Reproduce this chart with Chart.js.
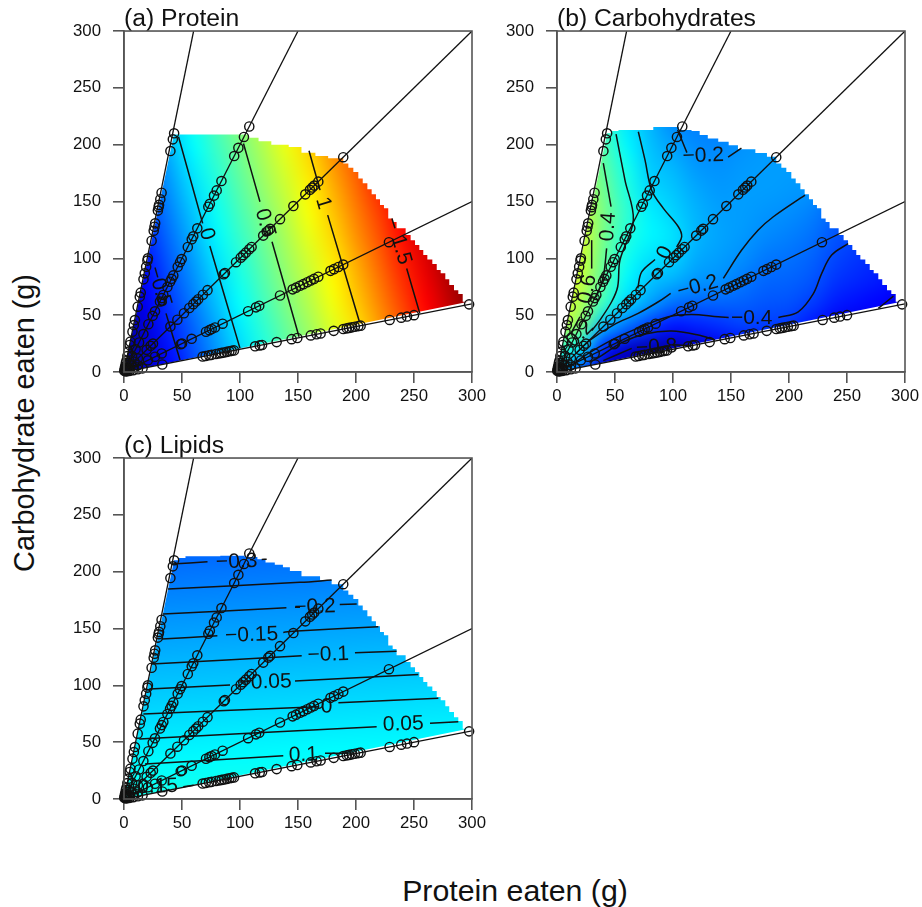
<!DOCTYPE html>
<html>
<head>
<meta charset="utf-8">
<title>Intake surfaces</title>
<script src="https://cdn.jsdelivr.net/npm/chart.js@4"></script>
<style>
body { margin: 0; background: #fff; width: 922px; height: 907px; position: relative; overflow: hidden; }
canvas { position: absolute; }
.axisTitle { position: absolute; font-family: "Liberation Sans", Arial, sans-serif; color: #111; white-space: nowrap; }
</style>
</head>
<body>
<canvas id="panelA" width="429" height="420" style="left:60px;top:0"></canvas>
<canvas id="panelB" width="429" height="420" style="left:493px;top:0"></canvas>
<canvas id="panelC" width="429" height="420" style="left:60px;top:427px"></canvas>
<div class="axisTitle" style="left:24px;top:423px;font-size:28.8px;transform:translate(-50%,-50%) rotate(-90deg)">Carbohydrate eaten (g)</div>
<div class="axisTitle" style="left:515px;top:891px;font-size:30.3px;transform:translate(-50%,-50%)">Protein eaten (g)</div>
<script>
// values
var tickValues = [0, 50, 100, 150, 200, 250, 300];

// rays, origin to frame
var rayEnds = [[60, 300], [150, 300], [300, 300], [300, 150], [300, 60]];

// feeding points on each ray (same in all panels)
var ray1 = [[43.2,210],[42.1,204.7],[40,194.4],[32.4,157.7],[31.3,152],[30.2,147],[29.8,145],[29.2,142],[26.9,130.8],[26.3,127.8],[25.6,124.3],[23.8,115.5],[20.6,100],[20.2,98],[19.1,92.6],[17.9,86.8],[16.8,81.5],[14.4,69.8],[13.6,66.3],[11.8,57.5],[9.4,45.7],[8.5,41.3],[7.3,35.5],[5.5,26.7],[4.9,23.8],[3.7,17.9],[2.9,14],[2.1,10],[1.6,8],[1,5],[0.6,3],[0.2,1]];
var ray2 = [[1,2],[2,4],[4,8],[7,14],[10,20],[13,26],[16.7,33.4],[21,42],[24.7,49.4],[26.7,53.4],[31,62],[32.5,65],[33.9,67.8],[37.4,74.8],[39.7,79.4],[41,82],[42.5,85],[46.3,92.6],[48.3,96.6],[49.7,99.4],[55,110],[58.4,116.8],[59.7,119.4],[63.2,126.4],[72.7,145.4],[74,148],[77.6,155.2],[79.9,159.8],[84,168],[95,190],[98.6,197.2],[103.4,206.8],[108,216]];
var ray3 = [[1,1],[3,3],[6,6],[9,9],[12,12],[19.5,19.5],[23,23],[25,25],[40,40],[46,46],[51.7,51.7],[56.3,56.3],[59.7,59.7],[62,62],[64,64],[68,68],[72,72],[86,86],[87,87],[96.6,96.6],[100.6,100.6],[102.8,102.8],[105,105],[108,108],[110,110],[120,120],[124.4,124.4],[126,126],[134.5,134.5],[146,146],[156.3,156.3],[160.3,160.3],[162.3,162.3],[164,164],[167.5,167.5],[189,189]];
var ray4 = [[2,1],[5,2.5],[8,4],[12,6],[20.6,10.3],[26.7,13.4],[32.5,16.3],[48.9,24.5],[50,25],[58.3,29.2],[70.7,35.4],[73.6,36.8],[75.6,37.8],[78.4,39.2],[85,42.5],[107,53.5],[113.8,56.9],[116.6,58.3],[134.5,67.3],[145.4,72.7],[148.3,74.2],[151.7,75.9],[154.6,77.3],[158,79],[161,80.5],[163.8,81.9],[167.5,83.8],[178,89],[181,90.5],[184.8,92.4],[189,94.5],[228.4,114.2]];
var ray5 = [[2,0.4],[5,1],[8,1.6],[12,2.4],[16,3.2],[33,6.6],[67.8,13.6],[70.4,14.1],[73.3,14.7],[75.6,15.1],[79.3,15.9],[82.2,16.4],[84.2,16.8],[86.2,17.2],[88.5,17.7],[90.8,18.2],[92.8,18.6],[94.8,19],[113,22.6],[117,23.4],[119,23.8],[131.6,26.3],[144.5,28.9],[149.4,29.9],[161,32.2],[166,33.2],[169.5,33.9],[180.8,36.2],[189,37.8],[192,38.4],[194,38.8],[196.5,39.3],[199,39.8],[202,40.4],[204,40.8],[229,45.8],[239,47.8],[244,48.8],[250,50],[297.5,59.5]];

// surface values, rows run y = 0,20..220, columns x = 0,20..300
var gridX = [0,20,40,60,80,100,120,140,160,180,200,220,240,260,280,300];
var gridY = [0,20,40,60,80,100,120,140,160,180,200,220];
var proteinGrid = [
  [-.98,-.79,-.6,-.42,-.23,-.05,.14,.33,.51,.7,.88,1.07,1.26,1.44,1.63,1.81],
  [-.93,-.74,-.55,-.37,-.18,0,.19,.38,.56,.75,.93,1.12,1.31,1.49,1.68,1.86],
  [-.88,-.69,-.5,-.32,-.13,.05,.24,.43,.61,.8,.98,1.17,1.36,1.54,1.73,1.91],
  [-.82,-.63,-.44,-.26,-.07,.11,.3,.49,.67,.86,1.04,1.23,1.42,1.6,1.79,1.97],
  [-.77,-.58,-.39,-.21,-.02,.16,.35,.54,.72,.91,1.09,1.28,1.47,1.65,1.84,2],
  [-.72,-.53,-.34,-.16,.03,.21,.4,.59,.77,.96,1.14,1.33,1.52,1.7,1.89,2],
  [-.66,-.48,-.29,-.1,.08,.27,.45,.64,.83,1.01,1.2,1.38,1.57,1.76,1.94,2],
  [-.61,-.43,-.24,-.05,.13,.32,.5,.69,.88,1.06,1.25,1.43,1.62,1.81,1.99,2],
  [-.56,-.37,-.19,0,.18,.37,.56,.74,.93,1.11,1.3,1.49,1.67,1.86,2,2],
  [-.51,-.32,-.14,.05,.24,.42,.61,.79,.98,1.17,1.35,1.54,1.73,1.91,2,2],
  [-.46,-.27,-.08,.1,.29,.47,.66,.85,1.03,1.22,1.4,1.59,1.78,1.96,2,2],
  [-.41,-.22,-.03,.16,.34,.53,.71,.9,1.08,1.27,1.46,1.64,1.83,2,2,2]
];
var carbGrid = [
  [0,-.4,-.85,-.95,-1,-1,-.95,-.9,-.85,-.8,-.75,-.8,-.85,-.9,-.95,-1],
  [.3,.05,-.5,-.75,-.85,-.85,-.8,-.68,-.65,-.62,-.6,-.7,-.75,-.8,-.85,-.9],
  [.7,.5,-.1,-.3,-.45,-.55,-.52,-.48,-.43,-.44,-.46,-.55,-.65,-.7,-.75,-.8],
  [.8,.65,.28,-.02,-.17,-.3,-.33,-.33,-.34,-.37,-.38,-.44,-.53,-.57,-.6,-.7],
  [.85,.72,.38,.08,-.06,-.12,-.19,-.21,-.27,-.32,-.33,-.37,-.46,-.5,-.54,-.62],
  [.85,.75,.43,.15,.02,-.02,-.13,-.17,-.21,-.27,-.29,-.33,-.41,-.46,-.5,-.56],
  [.85,.78,.47,.21,.08,.02,-.1,-.15,-.18,-.22,-.25,-.29,-.37,-.42,-.47,-.52],
  [.85,.75,.48,.24,.06,-.02,-.11,-.16,-.17,-.19,-.21,-.25,-.33,-.4,-.45,-.5],
  [.8,.7,.45,.2,0,-.06,-.14,-.18,-.17,-.17,-.18,-.2,-.3,-.38,-.43,-.48],
  [.75,.65,.4,.16,-.04,-.1,-.18,-.2,-.18,-.17,-.17,-.18,-.28,-.36,-.41,-.46],
  [.7,.6,.35,.08,-.07,-.16,-.22,-.23,-.2,-.18,-.17,-.18,-.27,-.34,-.4,-.44],
  [.65,.55,.3,.04,-.1,-.22,-.25,-.26,-.22,-.19,-.18,-.18,-.26,-.32,-.38,-.42]
];
var lipidGrid = [
  [.165,.168,.171,.174,.177,.18,.183,.186,.189,.192,.195,.198,.201,.204,.207,.21],
  [.12,.123,.126,.129,.132,.135,.138,.141,.144,.147,.15,.153,.156,.159,.162,.165],
  [.074,.077,.08,.083,.086,.089,.092,.095,.098,.101,.104,.107,.11,.113,.116,.119],
  [.029,.032,.035,.038,.041,.044,.047,.05,.053,.056,.059,.062,.065,.068,.071,.074],
  [-.017,-.014,-.011,-.008,-.005,-.002,.001,.004,.007,.01,.013,.016,.019,.022,.025,.028],
  [-.062,-.059,-.056,-.053,-.05,-.047,-.044,-.041,-.038,-.035,-.032,-.029,-.026,-.023,-.02,-.017],
  [-.107,-.104,-.101,-.098,-.095,-.092,-.089,-.086,-.083,-.08,-.077,-.074,-.071,-.068,-.065,-.062],
  [-.153,-.15,-.147,-.144,-.141,-.138,-.135,-.132,-.129,-.126,-.123,-.12,-.117,-.114,-.111,-.108],
  [-.198,-.195,-.192,-.189,-.186,-.183,-.18,-.177,-.174,-.171,-.168,-.165,-.162,-.159,-.156,-.153],
  [-.244,-.241,-.238,-.235,-.232,-.229,-.226,-.223,-.22,-.217,-.214,-.211,-.208,-.205,-.202,-.199],
  [-.289,-.286,-.283,-.28,-.277,-.274,-.271,-.268,-.265,-.262,-.259,-.256,-.253,-.25,-.247,-.244],
  [-.334,-.331,-.328,-.325,-.322,-.319,-.316,-.313,-.31,-.307,-.304,-.301,-.298,-.295,-.292,-.289]
];

// colour stops, jet style
var stopValues = [-1, -.6, .1, .5, .9, 1.6, 2];
var stopColors = [[0,0,128],[0,0,255],[0,255,255],[128,255,128],[255,255,0],[255,0,0],[128,0,0]];

// edge of the surface, stair corners
var rightEdge = [[193.4,183.5],[197.7,179.7],[202,176],[205.8,170.3],[209.8,166],[213.5,160.7],[217.2,156.5],[220.7,151.9],[224.1,146.9],[227.8,144],[231.6,135],[235,132],[242.8,126.4],[247.1,120.5],[250.9,116],[254.6,111.7],[258,107.3],[261.5,102.9],[265.8,99],[269.6,95],[273,89.7],[277,86.8],[280.4,81.5],[284.5,76.5],[288.2,72],[292,68.6],[296.8,61.8]];
var proteinTop = [[43,209],[107,209],[116,206],[127,203],[142,200],[153,198],[165,193],[176,190],[189,188]];
var carbTop = [[43,209],[47,210],[53,212],[83,213],[105,215.5],[116,213],[123,212],[130,208.5],[139,205.5],[148,202.6],[156,199.6],[171,196],[181,192.6],[189,189.4]];
var lipidTop = [[43,209],[47,210],[53,212],[83,213.5],[104,214],[115,213],[122,211],[130,208],[137,206],[143,204],[153,200.5],[169,196],[179,192.6],[189,189]];

// contour lines, null breaks the line at a label
var proteinContours = [
  [[36.2,51.6],[48.3,10.5]],
  [[47,207],[67.8,130.8],null,[74,110.8],[100,20.8]],
  [[103,201],[117.2,149.8],null,[127.6,114.6],[150.9,31]],
  [[159.5,194.7],[169,160],null,[175.6,138],[203,44]],
  [[231,135],[233.6,126.4],null,[243.7,91],[255,51.6]]
];
var proteinLabels = ["\u22120.5", "0", "0.5", "1", "1.5"];
var proteinLabelX = [30.4, 71.3, 121.6, 171.8, 238.8];
var proteinLabelY = [75, 121.4, 131, 148.4, 107.3];
var proteinLabelAngle = [74, 74, 74, 74, 74];

var carbContours = [
  [[19.8,48.6],[12,34]],
  [[29.9,116],[29.9,91]],
  [[39.9,183.8],[46.6,145.4],null,[42.8,108.8],[39.9,83.8],[34,66]],
  [[50.9,209.3],[58.6,168.9],[65.8,133.7],[54.3,98.5],[52.3,75],[47.1,61.8],[37,45.7],[30,36.5]],
  [[70.1,211.4],[75.9,186.4],[81.6,160],[91.7,144],[104.6,127.8],[107.5,119],[103.2,110],null,[84.5,99],[73,88],[69.6,73.6]],
  [[104,213],[108,203],[112,193]],
  [[147.5,189],[159,197]],
  [[16,16],[28.4,28.1],[48.5,41.3],[70,51.6],[87.4,61.8],[98,69.2],null,[143.4,82.4],[159.2,107.3],[173.5,124.9],[186.5,136.6],[213.8,155.7]],
  [[15,8],[27,16.4],[50,29.6],[73,39.9],[96,48.6],[116,50.7],[139,48.6],[148,48],null,[190.8,48],[208,53],[221,69],[228.2,86.8],[236.8,102.9],[251,113]],
  [[28,8.5],[37,13.5],[55.8,25.8],[75.9,33.4],[98.9,36],[121.8,32.5],[136.2,28.1]],
  [[277,56],[290,66.8]],
  [[39.9,10],[64.4,20.8],null,[100,24],[115,23]]
];
var carbLabels = ["\u22120.2", "0.4", "0.6", "0", "\u22120.2", "\u22120.4", "\u22120.8", "0.2"];
var carbLabelX = [126.1, 44.2, 26.4, 93.1, 121.3, 167.8, 86, 19.8];
var carbLabelY = [190.2, 127.8, 73, 105, 75, 47.2, 21.7, 33.4];
var carbLabelAngle = [-2, -86, -80, -65, -15, 0, -3, -45];

var lipidContours = [
  [[41,206.7],[72,208.7],null,[118.7,210.8],[123,210.9]],
  [[38,184.7],[151.7,190.6],[179,192.6]],
  [[33.5,162.7],[140,168.2],null,[147.4,168.6],[151.7,168.6],null,[186,171.2],[200.6,171.5]],
  [[32.5,140.7],[80.5,143.6],null,[137.3,146.6],[149,147.8],[219.3,151.6]],
  [[23.9,118.7],[153.2,126],null,[199.1,128.7],[235,130]],
  [[21.8,96.7],[91.4,100.2],null,[147.4,103.8],[253.7,109.6]],
  [[16.7,74.8],[167.5,81.2],null,[184.8,84.7],[271,88.6]],
  [[13.2,52.8],[217.8,63.6],null,[263.8,66.6],[288.2,68]],
  [[18.1,30.8],[137.3,38],null,[173.3,40.2],[198,40.5]],
  [[51.1,10.8],[60,12]]
];
var lipidLabels = ["\u22120.3", "\u22120.2", "\u22120.15", "\u22120.1", "\u22120.05", "0", "0.05", "0.1", "0.15"];
var lipidLabelX = [97.1, 164.7, 110, 176.1, 121.6, 174.7, 240.8, 154.6, 29];
var lipidLabelY = [208.7, 168.9, 144.2, 126.9, 102.6, 81.2, 65.7, 38.7, 10.8];
var lipidLabelAngle = [-2, -2, -2, -2, -2, -2, -2, -2, -2];

var fontName = '"Liberation Sans", Arial, sans-serif';

function valueToColor(v) {
    for (var i = 0; i < stopValues.length - 1; i++) {
        if (v <= stopValues[i + 1] || i == stopValues.length - 2) {
            var t = (v - stopValues[i]) / (stopValues[i + 1] - stopValues[i]);
            t = Math.max(0, Math.min(1, t));
            return [0, 1, 2].map(function (k) {
                return Math.round(stopColors[i][k] + t * (stopColors[i + 1][k] - stopColors[i][k]));
            });
        }
    }
}

// one pixel per grid value, scaled up with smoothing onto the axes
function gridImage(grid) {
    var off = document.createElement('canvas');
    off.width = gridX.length;
    off.height = gridY.length;
    var c = off.getContext('2d');
    var img = c.createImageData(off.width, off.height);
    for (var r = 0; r < gridY.length; r++) {
        for (var k = 0; k < gridX.length; k++) {
            var col = valueToColor(grid[r][k]);
            var at = ((gridY.length - 1 - r) * gridX.length + k) * 4;
            img.data[at] = col[0];
            img.data[at + 1] = col[1];
            img.data[at + 2] = col[2];
            img.data[at + 3] = 255;
        }
    }
    c.putImageData(img, 0, 0);
    return off;
}

var surfacePlugin = {
    id: 'surface',
    beforeDatasetsDraw: function (chart, args, opts) {
        var ctx = chart.ctx, sx = chart.scales.x, sy = chart.scales.y;
        var outline = opts.top.concat(rightEdge);
        ctx.save();
        ctx.beginPath();
        ctx.moveTo(sx.getPixelForValue(0), sy.getPixelForValue(0));
        ctx.lineTo(sx.getPixelForValue(outline[0][0]), sy.getPixelForValue(outline[0][1]));
        for (var i = 1; i < outline.length; i++) {
            // drop first, then run along the plateau
            ctx.lineTo(sx.getPixelForValue(outline[i - 1][0]), sy.getPixelForValue(outline[i][1]));
            ctx.lineTo(sx.getPixelForValue(outline[i][0]), sy.getPixelForValue(outline[i][1]));
        }
        ctx.closePath();
        ctx.clip();
        ctx.imageSmoothingEnabled = true;
        ctx.imageSmoothingQuality = 'high';
        var x0 = sx.getPixelForValue(gridX[0]), x1 = sx.getPixelForValue(gridX[gridX.length - 1]);
        var y0 = sy.getPixelForValue(gridY[0]), y1 = sy.getPixelForValue(gridY[gridY.length - 1]);
        ctx.drawImage(gridImage(opts.grid), 0.5, 0.5, gridX.length - 1, gridY.length - 1, x0, y1, x1 - x0, y0 - y1);
        ctx.restore();

        // contour labels lie under the rays and circles
        ctx.save();
        ctx.font = '21px ' + fontName;
        ctx.fillStyle = '#111';
        ctx.textAlign = 'center';
        ctx.textBaseline = 'middle';
        for (var j = 0; j < opts.labels.length; j++) {
            ctx.save();
            ctx.translate(sx.getPixelForValue(opts.labelX[j]), sy.getPixelForValue(opts.labelY[j]));
            ctx.rotate(opts.labelAngle[j] * Math.PI / 180);
            ctx.fillText(opts.labels[j], 0, 0);
            ctx.restore();
        }
        ctx.restore();
    },
    afterDraw: function (chart) {
        var a = chart.chartArea, ctx = chart.ctx;
        ctx.save();
        ctx.strokeStyle = '#555';
        ctx.lineWidth = 1.6;
        ctx.strokeRect(a.left, a.top, a.right - a.left, a.bottom - a.top);
        ctx.restore();
    }
};

function toPoints(pairs) {
    return pairs.map(function (p) {
        return p === null ? { x: NaN, y: NaN } : { x: p[0], y: p[1] };
    });
}

function makePanel(id, title, grid, top, contours, labels, labelX, labelY, labelAngle) {
    var datasets = [];
    contours.forEach(function (line) {
        datasets.push({ data: toPoints(line), showLine: true, spanGaps: false, tension: 0.35, pointRadius: 0, borderColor: '#111', borderWidth: 1.5 });
    });
    rayEnds.forEach(function (end) {
        datasets.push({ data: toPoints([[0, 0], end]), showLine: true, pointRadius: 0, borderColor: '#111', borderWidth: 1.3 });
    });
    [ray1, ray2, ray3, ray4, ray5].forEach(function (ray) {
        datasets.push({
            data: toPoints(ray), showLine: false, clip: false, pointRadius: 4.6, pointBorderWidth: 1.4,
            pointBorderColor: '#111', pointBackgroundColor: 'rgba(0,0,0,0)'
        });
    });
    return new Chart(id, {
        type: 'scatter',
        data: { datasets: datasets },
        plugins: [surfacePlugin],
        options: {
            responsive: false,
            animation: false,
            layout: { padding: { right: 17 } },
            plugins: {
                legend: { display: false },
                tooltip: { enabled: false },
                title: {
                    display: true, text: title, align: 'start', fullSize: false, color: '#111',
                    font: { family: fontName, size: 24.7, weight: 'normal', lineHeight: 0.9 },
                    padding: { top: 8, bottom: 0.8 }
                },
                surface: { grid: grid, top: top, labels: labels, labelX: labelX, labelY: labelY, labelAngle: labelAngle }
            },
            scales: {
                x: axisOptions(3, function (s) { s.height = 48; s.paddingLeft = 0; s.paddingRight = 0; }),
                y: axisOptions(12, function (s) { s.width = 64; s.paddingTop = 0; s.paddingBottom = 0; })
            }
        }
    });
}

function axisOptions(pad, fit) {
    return {
        type: 'linear', min: 0, max: 300,
        afterBuildTicks: function (s) { s.ticks = tickValues.map(function (v) { return { value: v }; }); },
        afterFit: fit,
        border: { color: '#555', width: 1.6 },
        grid: { drawOnChartArea: false, drawTicks: true, tickLength: 11, color: '#555', lineWidth: 1.6 },
        ticks: { padding: pad, maxRotation: 0, autoSkip: false, color: '#111', font: { family: fontName, size: 16.8 } }
    };
}

window.onload = function () {
    makePanel('panelA', '(a) Protein', proteinGrid, proteinTop, proteinContours, proteinLabels, proteinLabelX, proteinLabelY, proteinLabelAngle);
    makePanel('panelB', '(b) Carbohydrates', carbGrid, carbTop, carbContours, carbLabels, carbLabelX, carbLabelY, carbLabelAngle);
    makePanel('panelC', '(c) Lipids', lipidGrid, lipidTop, lipidContours, lipidLabels, lipidLabelX, lipidLabelY, lipidLabelAngle);
};
</script>
</body>
</html>
